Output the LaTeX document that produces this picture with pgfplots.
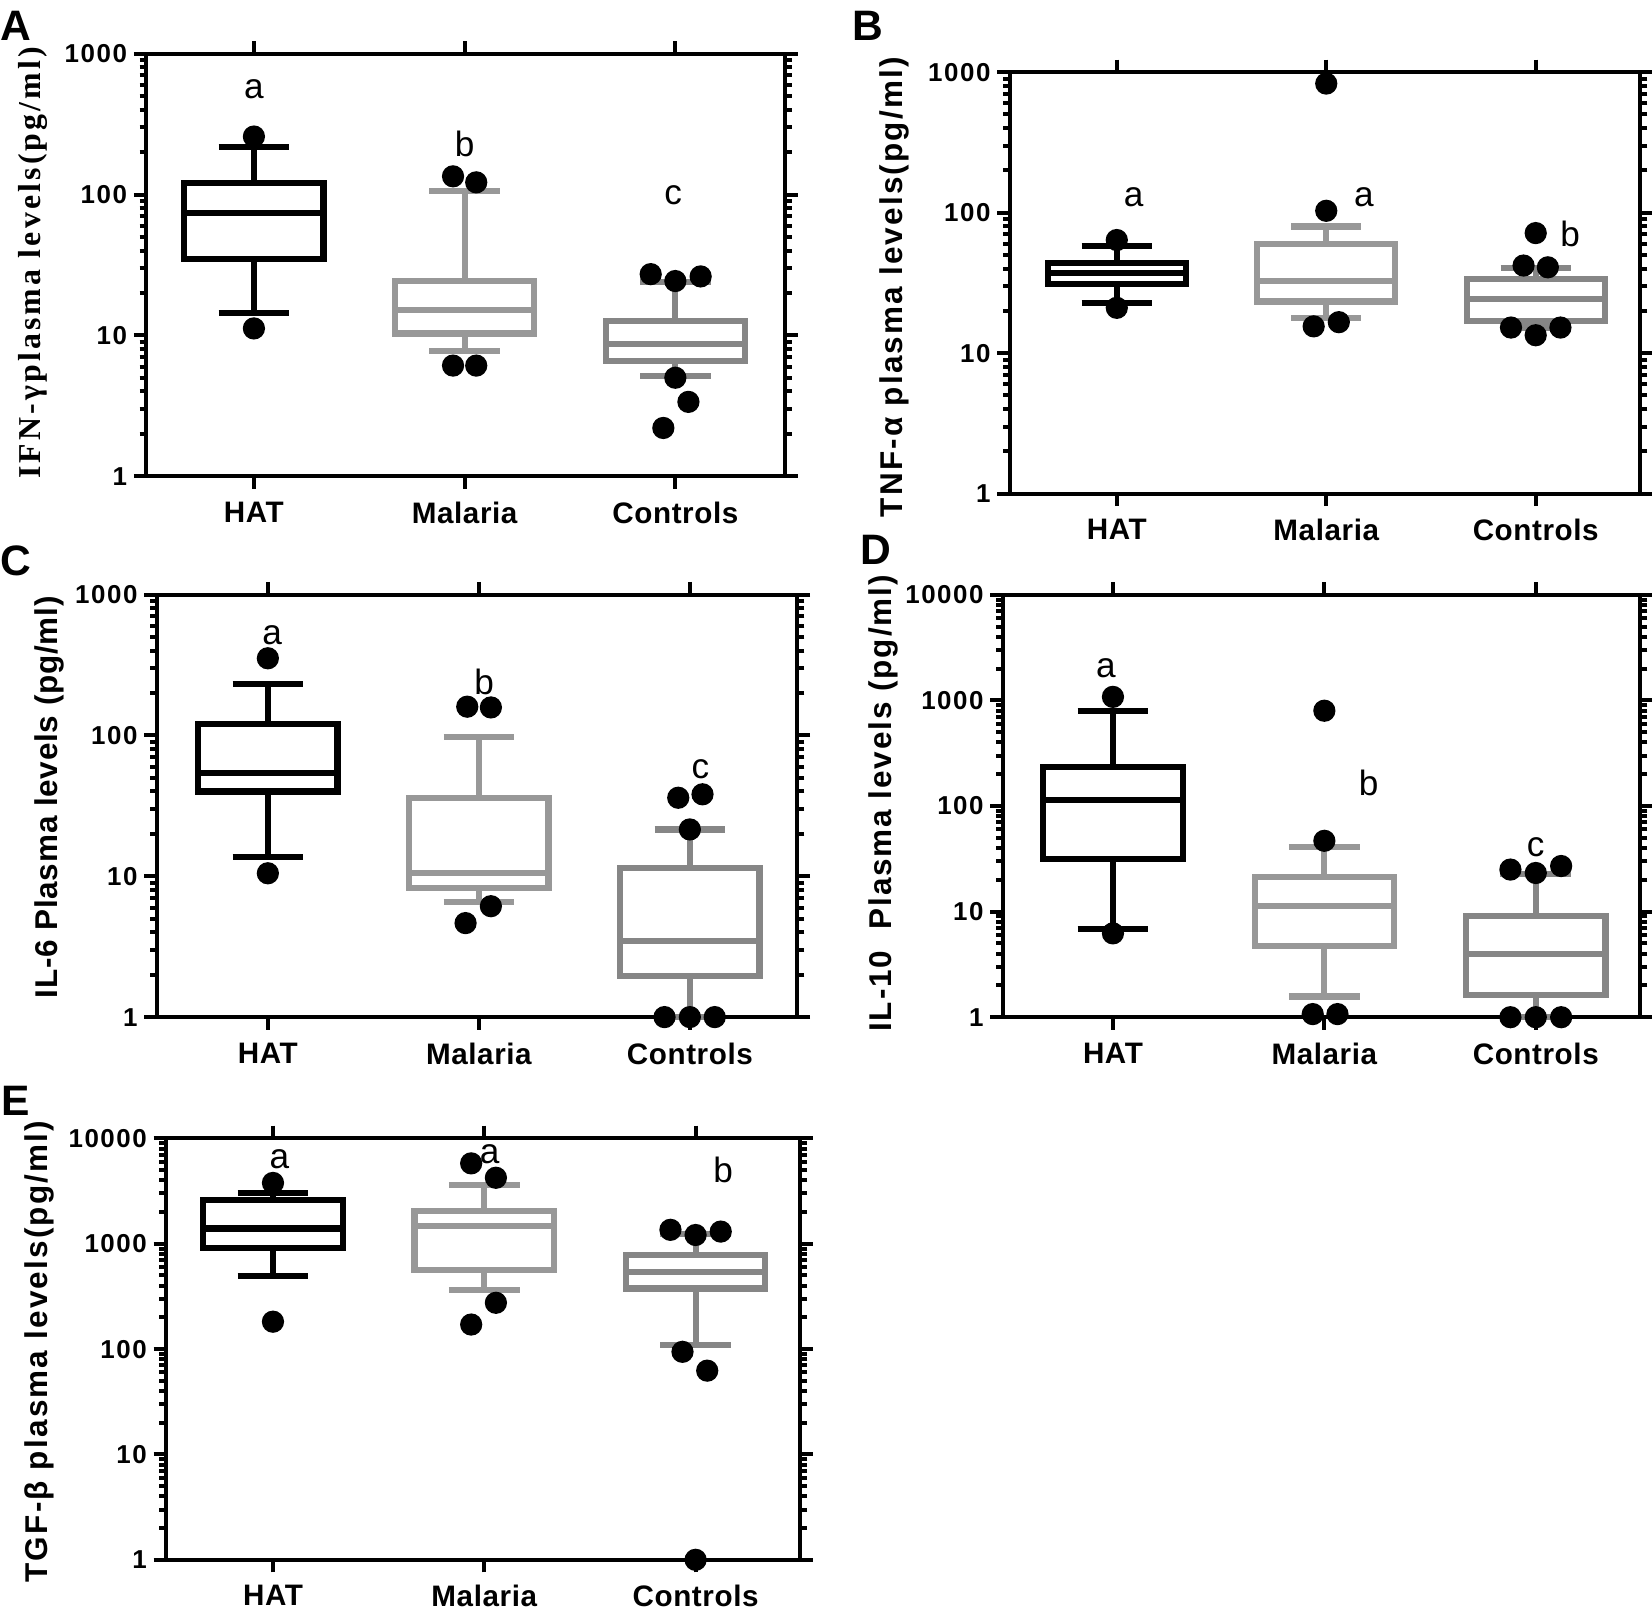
\documentclass[border=0pt]{standalone}
\usepackage{fontspec}
\setmainfont{Liberation Sans}
\newfontfamily\tickfam[LetterSpace=6]{Liberation Sans}
\newfontfamily\labfamB[LetterSpace=7]{Liberation Sans}
\newfontfamily\labfamC[LetterSpace=2.5]{Liberation Sans}
\newfontfamily\labfamD[LetterSpace=6]{Liberation Sans}
\newfontfamily\labfamE[LetterSpace=7]{Liberation Sans}
\newfontfamily\catfam[LetterSpace=2]{Liberation Sans}
\newfontfamily\serfam[LetterSpace=10]{Liberation Serif}
\usepackage{pgfplots}
\pgfplotsset{compat=1.18}
\definecolor{hatc}{RGB}{0,0,0}
\definecolor{malc}{RGB}{152,152,152}
\definecolor{conc}{RGB}{134,134,134}
\newcommand\tickfont{\tickfam\bfseries\fontsize{7}{8}\selectfont}
\newcommand\catfont{\catfam\bfseries\fontsize{8}{9}\selectfont}
\newcommand\letfont{\fontsize{9.5}{11}\selectfont}
\newcommand\panfont{\bfseries\fontsize{11.5}{13}\selectfont}
\pgfplotsset{
  cyto/.style={scale only axis, clip=false,
    axis line style={line width=1.08pt}, tick style={black,line width=1.08pt},
    tick align=outside, major tick length=0.12cm, minor tick length=0.065cm,
    xtick={1,2,3}, xticklabels={HAT,Malaria,Controls}, minor xtick={},
    xtick pos=both, xticklabel pos=lower, ytick pos=both, yticklabel pos=left,
    xticklabel style={font=\catfont}, yticklabel style={font=\tickfont, xshift=0.06cm},
    ylabel style={anchor=center}},
  boxln/.style={line width=1.65pt, line join=miter, mark=none},
  outl/.style={only marks, mark=*, mark size=2.8pt, black},
}
\tikzset{sigl/.style={font=\letfont, anchor=center}}
% box: colour, position, lower whisker, lower quartile, median, upper quartile, upper whisker
\newcommand\cbox[7]{%
  \pgfmathsetmacro\bxl{#2-0.33}\pgfmathsetmacro\bxr{#2+0.33}%
  \pgfmathsetmacro\cxl{#2-0.1675}\pgfmathsetmacro\cxr{#2+0.1675}%
  \edef\tmp{%
    \noexpand\addplot[#1,boxln] coordinates {(#2,#6) (#2,#7)};
    \noexpand\addplot[#1,boxln] coordinates {(#2,#4) (#2,#3)};
    \noexpand\addplot[#1,boxln] coordinates {(\cxl,#7) (\cxr,#7)};
    \noexpand\addplot[#1,boxln] coordinates {(\cxl,#3) (\cxr,#3)};
    \noexpand\addplot[#1,boxln,fill=white] coordinates {(\bxl,#4) (\bxr,#4) (\bxr,#6) (\bxl,#6)} -- cycle;
    \noexpand\addplot[#1,boxln] coordinates {(\bxl,#5) (\bxr,#5)};
  }\tmp}
\begin{document}
\begin{tikzpicture}
\useasboundingbox (0,0) rectangle (15.68,15.34);

% A: IFN-gamma
\begin{axis}[ymode=log, cyto, anchor=south west, at={(1.39cm,10.82cm)}, width=6.06cm, height=4.01cm,
  xmin=0.49, xmax=3.52, ymin=1, ymax=1000,
  ytick={1,10,100,1000}, yticklabels={1,10,100,1000},
  ylabel={IFN-γplasma levels(pg/ml)},
  ylabel style={at={(axis description cs:-0.177,0.505)}, font=\serfam\bfseries\fontsize{8.6}{10}\selectfont}]
\cbox{hatc}{1}{14.5}{34.7}{74}{120}{218}
\cbox{malc}{2}{7.7}{10.3}{15.1}{24.4}{105.6}
\cbox{conc}{3}{5.17}{6.56}{8.7}{12.6}{23.8}
\addplot[outl] coordinates {(1,258) (1,11.2) (1.945,134.6) (2.055,122) (1.945,6.1) (2.055,6.1)
  (2.883,27.2) (3,24.3) (3.12,26.2) (3,5.0) (3.062,3.37) (2.943,2.2)};
\node[sigl] at (axis cs:1,560) {a};
\node[sigl] at (axis cs:2,230) {b};
\node[sigl] at (axis cs:2.99,99) {c};
\end{axis}

% B: TNF-alpha
\begin{axis}[ymode=log, cyto, anchor=south west, at={(9.586cm,10.655cm)}, width=5.984cm, height=4.0cm,
  xmin=0.49, xmax=3.50, ymin=1, ymax=1000,
  ytick={1,10,100,1000}, yticklabels={1,10,100,1000},
  ylabel={TNF-α plasma levels(pg/ml)},
  ylabel style={at={(axis description cs:-0.184,0.49)}, font=\labfamB\bfseries\fontsize{8.5}{10}\selectfont}]
\cbox{hatc}{1}{22.8}{31.1}{37}{43.5}{57.5}
\cbox{malc}{2}{17.7}{23.3}{32.5}{59.8}{79.7}
\cbox{conc}{3}{15.2}{16.9}{24.1}{33.8}{40.2}
\addplot[outl] coordinates {(1,63.8) (1,21) (2,829) (2,103) (1.94,15.5) (2.06,16.6)
  (3,71.5) (2.942,42) (3.058,40.8) (2.882,15.2) (3,13.4) (3.118,15.2)};
\node[sigl] at (axis cs:1.08,128) {a};
\node[sigl] at (axis cs:2.18,128) {a};
\node[sigl] at (axis cs:3.164,70.4) {b};
\end{axis}

% C: IL-6
\begin{axis}[ymode=log, cyto, anchor=south west, at={(1.489cm,5.686cm)}, width=6.08cm, height=4.01cm,
  xmin=0.474, xmax=3.51, ymin=1, ymax=1000,
  ytick={1,10,100,1000}, yticklabels={1,10,100,1000},
  ylabel={IL-6 Plasma levels (pg/ml)},
  ylabel style={at={(axis description cs:-0.167,0.52)}, font=\labfamC\bfseries\fontsize{8.5}{10}\selectfont}]
\cbox{hatc}{1}{13.7}{40}{53.8}{120}{231}
\cbox{malc}{2}{6.59}{8.26}{10.5}{35.7}{97.2}
\cbox{conc}{3}{1.0}{1.96}{3.49}{11.4}{21.5}
\addplot[outl] coordinates {(1,353) (1,10.5) (1.945,160) (2.057,158) (2.057,6.13) (1.937,4.65)
  (2.945,36.1) (3.06,38.2) (3,21.5) (2.88,1) (3,1) (3.118,1)};
\node[sigl] at (axis cs:1.02,517) {a};
\node[sigl] at (axis cs:2.025,239) {b};
\node[sigl] at (axis cs:3.05,57.6) {c};
\end{axis}

% D: IL-10
\begin{axis}[ymode=log, cyto, anchor=south west, at={(9.52cm,5.685cm)}, width=6.05cm, height=4.01cm,
  xmin=0.48, xmax=3.495, ymin=1, ymax=10000,
  ytick={1,10,100,1000,10000}, yticklabels={1,10,100,1000,10000},
  ylabel={IL-10\ \ Plasma levels (pg/ml)},
  ylabel style={at={(axis description cs:-0.187,0.506)}, font=\labfamD\bfseries\fontsize{8.5}{10}\selectfont}]
\cbox{hatc}{1}{6.87}{31.4}{115}{236}{786}
\cbox{malc}{2}{1.57}{4.68}{11.4}{21.1}{40.8}
\cbox{conc}{3}{1.0}{1.61}{3.96}{9.07}{22.7}
\addplot[outl] coordinates {(1,1079) (1,6.22) (2,798) (2,46.8) (1.945,1.07) (2.062,1.07)
  (2.88,25.0) (3,23.2) (3.12,27.0) (2.88,1) (3,1) (3.12,1)};
\node[sigl] at (axis cs:0.967,2014) {a};
\node[sigl] at (axis cs:2.21,164) {b};
\node[sigl] at (axis cs:3,40.8) {c};
\end{axis}

% E: TGF-beta
\begin{axis}[ymode=log, cyto, anchor=south west, at={(1.578cm,0.535cm)}, width=6.017cm, height=4.0cm,
  xmin=0.495, xmax=3.495, ymin=1, ymax=10000,
  ytick={1,10,100,1000,10000}, yticklabels={1,10,100,1000,10000},
  ylabel={TGF-β plasma levels(pg/ml)},
  ylabel style={at={(axis description cs:-0.200,0.494)}, font=\labfamE\bfseries\fontsize{8.5}{10}\selectfont}]
\cbox{hatc}{1}{493}{910}{1395}{2598}{3018}
\cbox{malc}{2}{363}{560}{1482}{2029}{3585}
\cbox{conc}{3}{110}{376}{539}{784}{1228}
\addplot[outl] coordinates {(1,3776) (1,182) (1.938,5790) (2.055,4226) (2.055,275) (1.938,171)
  (2.881,1355) (3,1210) (3.119,1304) (2.938,94.2) (3.055,62.4) (3,1)};
\node[sigl] at (axis cs:1.03,6380) {a};
\node[sigl] at (axis cs:2.025,7140) {a};
\node[sigl] at (axis cs:3.13,5020) {b};
\end{axis}

\node[font=\panfont] at (0.149,15.094) {A};
\node[font=\panfont] at (8.236,15.094) {B};
\node[font=\panfont] at (0.149,10.018) {C};
\node[font=\panfont] at (8.312,10.117) {D};
\node[font=\panfont] at (0.149,4.894) {E};
\end{tikzpicture}
\end{document}
